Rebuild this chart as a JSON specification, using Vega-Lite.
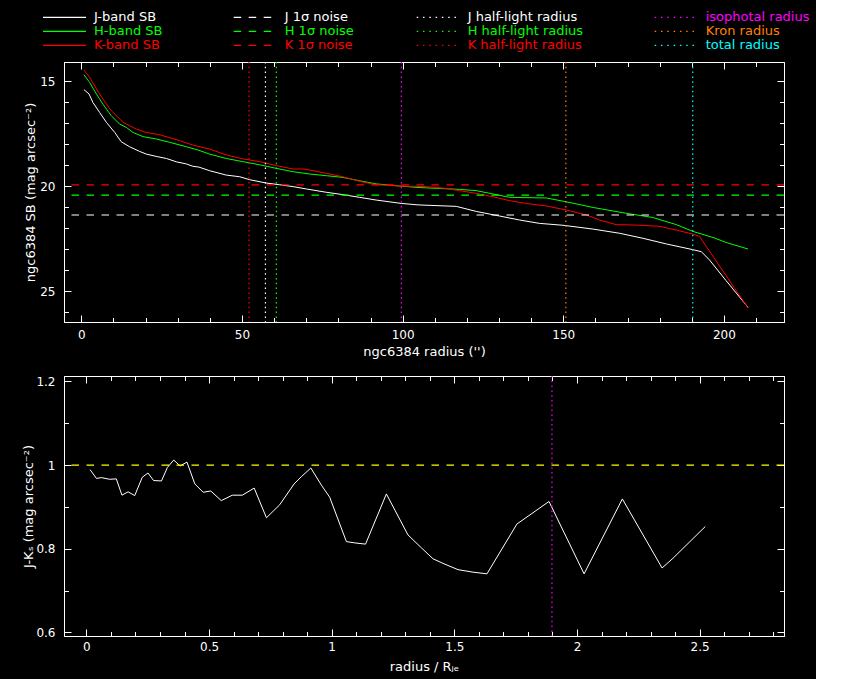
{
  "$schema": "https://vega.github.io/schema/vega-lite/v6.json",
  "background": "#000000",
  "padding": {"left": 21, "top": 10, "right": 5, "bottom": 5},
  "config": {
    "view": {"stroke": "#ffffff", "strokeWidth": 1},
    "font": "DejaVu Sans",
    "axis": {
      "domainColor": "#ffffff", "domainWidth": 1, "tickColor": "#ffffff", "tickWidth": 1,
      "labelColor": "#ffffff", "titleColor": "#ffffff",
      "labelFont": "DejaVu Sans", "titleFont": "DejaVu Sans",
      "labelFontSize": 12, "titleFontSize": 13, "titleFontWeight": "normal",
      "grid": false, "labelOverlap": false, "labelFlush": false
    },
    "legend": {
      "orient": "none", "symbolType": "stroke", "symbolSize": 1849, "symbolStrokeWidth": 1.2,
      "clipHeight": 13.8, "rowPadding": 0, "labelOffset": 7, "padding": 0,
      "labelFont": "DejaVu Sans", "labelFontSize": 13, "labelColor": "#ffffff"
    }
  },
  "datasets": {
    "sb": [
      {"label": "J-band SB", "r": 0.8, "sb": 15.41}, {"label": "J-band SB", "r": 2.4, "sb": 15.62},
      {"label": "J-band SB", "r": 3.6, "sb": 16.02}, {"label": "J-band SB", "r": 5.7, "sb": 16.5},
      {"label": "J-band SB", "r": 7.8, "sb": 16.97}, {"label": "J-band SB", "r": 10.4, "sb": 17.45},
      {"label": "J-band SB", "r": 12.4, "sb": 17.89}, {"label": "J-band SB", "r": 15.0, "sb": 18.13},
      {"label": "J-band SB", "r": 18.1, "sb": 18.35}, {"label": "J-band SB", "r": 20.2, "sb": 18.48},
      {"label": "J-band SB", "r": 23.3, "sb": 18.59}, {"label": "J-band SB", "r": 26.5, "sb": 18.69},
      {"label": "J-band SB", "r": 29.6, "sb": 18.85}, {"label": "J-band SB", "r": 32.7, "sb": 18.95},
      {"label": "J-band SB", "r": 34.7, "sb": 19.06}, {"label": "J-band SB", "r": 36.6, "sb": 19.1},
      {"label": "J-band SB", "r": 39.9, "sb": 19.27}, {"label": "J-band SB", "r": 45.1, "sb": 19.48},
      {"label": "J-band SB", "r": 49.3, "sb": 19.56}, {"label": "J-band SB", "r": 52.4, "sb": 19.7},
      {"label": "J-band SB", "r": 57.6, "sb": 19.86}, {"label": "J-band SB", "r": 61.7, "sb": 19.94},
      {"label": "J-band SB", "r": 65.9, "sb": 20.03}, {"label": "J-band SB", "r": 70.0, "sb": 20.14},
      {"label": "J-band SB", "r": 76.3, "sb": 20.3}, {"label": "J-band SB", "r": 81.4, "sb": 20.41},
      {"label": "J-band SB", "r": 86.6, "sb": 20.54}, {"label": "J-band SB", "r": 91.8, "sb": 20.67},
      {"label": "J-band SB", "r": 99.6, "sb": 20.83}, {"label": "J-band SB", "r": 104.8, "sb": 20.9},
      {"label": "J-band SB", "r": 116.7, "sb": 20.97}, {"label": "J-band SB", "r": 122.9, "sb": 21.21},
      {"label": "J-band SB", "r": 130.2, "sb": 21.43}, {"label": "J-band SB", "r": 136.4, "sb": 21.62},
      {"label": "J-band SB", "r": 142.6, "sb": 21.78}, {"label": "J-band SB", "r": 149.9, "sb": 21.87},
      {"label": "J-band SB", "r": 159.2, "sb": 22.05}, {"label": "J-band SB", "r": 167.5, "sb": 22.25},
      {"label": "J-band SB", "r": 174.8, "sb": 22.49}, {"label": "J-band SB", "r": 182.1, "sb": 22.76},
      {"label": "J-band SB", "r": 190.3, "sb": 23.03}, {"label": "J-band SB", "r": 193.0, "sb": 23.13},
      {"label": "J-band SB", "r": 195.5, "sb": 23.52}, {"label": "J-band SB", "r": 200.7, "sb": 24.51},
      {"label": "J-band SB", "r": 207.5, "sb": 25.78},
      {"label": "H-band SB", "r": 0.8, "sb": 14.7}, {"label": "H-band SB", "r": 2.6, "sb": 15.07},
      {"label": "H-band SB", "r": 4.7, "sb": 15.62}, {"label": "H-band SB", "r": 6.7, "sb": 16.1},
      {"label": "H-band SB", "r": 9.3, "sb": 16.65}, {"label": "H-band SB", "r": 11.9, "sb": 17.05},
      {"label": "H-band SB", "r": 14.0, "sb": 17.21}, {"label": "H-band SB", "r": 16.1, "sb": 17.45},
      {"label": "H-band SB", "r": 19.2, "sb": 17.65}, {"label": "H-band SB", "r": 23.3, "sb": 17.76},
      {"label": "H-band SB", "r": 27.5, "sb": 17.92}, {"label": "H-band SB", "r": 32.7, "sb": 18.13},
      {"label": "H-band SB", "r": 36.6, "sb": 18.3}, {"label": "H-band SB", "r": 39.9, "sb": 18.48},
      {"label": "H-band SB", "r": 45.1, "sb": 18.69}, {"label": "H-band SB", "r": 50.3, "sb": 18.84},
      {"label": "H-band SB", "r": 55.5, "sb": 18.99}, {"label": "H-band SB", "r": 60.7, "sb": 19.16},
      {"label": "H-band SB", "r": 65.9, "sb": 19.32}, {"label": "H-band SB", "r": 71.1, "sb": 19.43},
      {"label": "H-band SB", "r": 76.3, "sb": 19.51}, {"label": "H-band SB", "r": 81.4, "sb": 19.59},
      {"label": "H-band SB", "r": 86.6, "sb": 19.75}, {"label": "H-band SB", "r": 91.8, "sb": 19.9},
      {"label": "H-band SB", "r": 99.1, "sb": 20.0}, {"label": "H-band SB", "r": 104.8, "sb": 20.07},
      {"label": "H-band SB", "r": 110.5, "sb": 20.11}, {"label": "H-band SB", "r": 117.7, "sb": 20.16},
      {"label": "H-band SB", "r": 122.9, "sb": 20.22}, {"label": "H-band SB", "r": 128.1, "sb": 20.38},
      {"label": "H-band SB", "r": 133.3, "sb": 20.54}, {"label": "H-band SB", "r": 144.7, "sb": 20.57},
      {"label": "H-band SB", "r": 150.9, "sb": 20.75}, {"label": "H-band SB", "r": 159.2, "sb": 21.02},
      {"label": "H-band SB", "r": 169.6, "sb": 21.3}, {"label": "H-band SB", "r": 177.9, "sb": 21.5},
      {"label": "H-band SB", "r": 185.2, "sb": 21.84}, {"label": "H-band SB", "r": 190.3, "sb": 22.16},
      {"label": "H-band SB", "r": 196.6, "sb": 22.45}, {"label": "H-band SB", "r": 200.7, "sb": 22.69},
      {"label": "H-band SB", "r": 207.5, "sb": 23.0},
      {"label": "K-band SB", "r": 0.8, "sb": 14.48}, {"label": "K-band SB", "r": 2.6, "sb": 14.83},
      {"label": "K-band SB", "r": 4.7, "sb": 15.38}, {"label": "K-band SB", "r": 6.7, "sb": 15.86},
      {"label": "K-band SB", "r": 9.3, "sb": 16.41}, {"label": "K-band SB", "r": 13.0, "sb": 16.97},
      {"label": "K-band SB", "r": 17.1, "sb": 17.29}, {"label": "K-band SB", "r": 20.2, "sb": 17.45},
      {"label": "K-band SB", "r": 24.4, "sb": 17.56}, {"label": "K-band SB", "r": 27.0, "sb": 17.68},
      {"label": "K-band SB", "r": 30.6, "sb": 17.84}, {"label": "K-band SB", "r": 34.7, "sb": 18.05},
      {"label": "K-band SB", "r": 39.9, "sb": 18.24}, {"label": "K-band SB", "r": 45.1, "sb": 18.52},
      {"label": "K-band SB", "r": 50.3, "sb": 18.71}, {"label": "K-band SB", "r": 55.5, "sb": 18.84},
      {"label": "K-band SB", "r": 60.7, "sb": 19.03}, {"label": "K-band SB", "r": 65.9, "sb": 19.19},
      {"label": "K-band SB", "r": 69.0, "sb": 19.19}, {"label": "K-band SB", "r": 72.2, "sb": 19.27},
      {"label": "K-band SB", "r": 76.3, "sb": 19.4}, {"label": "K-band SB", "r": 81.4, "sb": 19.56},
      {"label": "K-band SB", "r": 86.6, "sb": 19.78}, {"label": "K-band SB", "r": 91.8, "sb": 19.94},
      {"label": "K-band SB", "r": 99.1, "sb": 20.0}, {"label": "K-band SB", "r": 107.4, "sb": 20.03},
      {"label": "K-band SB", "r": 113.1, "sb": 20.11}, {"label": "K-band SB", "r": 117.7, "sb": 20.22},
      {"label": "K-band SB", "r": 122.9, "sb": 20.35}, {"label": "K-band SB", "r": 128.1, "sb": 20.51},
      {"label": "K-band SB", "r": 133.3, "sb": 20.7}, {"label": "K-band SB", "r": 138.5, "sb": 20.83},
      {"label": "K-band SB", "r": 144.7, "sb": 20.95}, {"label": "K-band SB", "r": 150.9, "sb": 21.14},
      {"label": "K-band SB", "r": 157.2, "sb": 21.38}, {"label": "K-band SB", "r": 161.3, "sb": 21.62},
      {"label": "K-band SB", "r": 166.5, "sb": 21.84}, {"label": "K-band SB", "r": 172.7, "sb": 21.86},
      {"label": "K-band SB", "r": 180.0, "sb": 21.92}, {"label": "K-band SB", "r": 185.2, "sb": 22.1},
      {"label": "K-band SB", "r": 190.3, "sb": 22.29}, {"label": "K-band SB", "r": 192.4, "sb": 22.4},
      {"label": "K-band SB", "r": 207.5, "sb": 25.81}
    ],
    "noise": [
      {"label": "J 1σ noise", "sb": 21.38},
      {"label": "H 1σ noise", "sb": 20.43},
      {"label": "K 1σ noise", "sb": 19.95}
    ],
    "halflight": [
      {"label": "J half-light radius", "r": 57.3},
      {"label": "H half-light radius", "r": 60.7},
      {"label": "K half-light radius", "r": 52.2}
    ],
    "radii": [
      {"label": "isophotal radius", "r": 99.6},
      {"label": "Kron radius", "r": 150.8},
      {"label": "total radius", "r": 190.3}
    ],
    "jk": [
      {"x": 0.015, "jk": 0.989}, {"x": 0.041, "jk": 0.968}, {"x": 0.061, "jk": 0.97},
      {"x": 0.095, "jk": 0.966}, {"x": 0.122, "jk": 0.967}, {"x": 0.145, "jk": 0.928},
      {"x": 0.17, "jk": 0.936}, {"x": 0.197, "jk": 0.927}, {"x": 0.228, "jk": 0.971},
      {"x": 0.251, "jk": 0.981}, {"x": 0.274, "jk": 0.963}, {"x": 0.306, "jk": 0.962},
      {"x": 0.33, "jk": 0.994}, {"x": 0.356, "jk": 1.012}, {"x": 0.382, "jk": 0.998},
      {"x": 0.41, "jk": 1.007}, {"x": 0.442, "jk": 0.955}, {"x": 0.476, "jk": 0.935},
      {"x": 0.507, "jk": 0.938}, {"x": 0.55, "jk": 0.915}, {"x": 0.595, "jk": 0.928},
      {"x": 0.636, "jk": 0.928}, {"x": 0.684, "jk": 0.945}, {"x": 0.734, "jk": 0.874},
      {"x": 0.788, "jk": 0.905}, {"x": 0.847, "jk": 0.955}, {"x": 0.876, "jk": 0.972},
      {"x": 0.915, "jk": 0.993}, {"x": 0.958, "jk": 0.952}, {"x": 0.992, "jk": 0.923},
      {"x": 1.06, "jk": 0.817}, {"x": 1.094, "jk": 0.814}, {"x": 1.138, "jk": 0.811},
      {"x": 1.223, "jk": 0.931}, {"x": 1.311, "jk": 0.833}, {"x": 1.366, "jk": 0.802},
      {"x": 1.413, "jk": 0.776}, {"x": 1.454, "jk": 0.765}, {"x": 1.515, "jk": 0.75},
      {"x": 1.576, "jk": 0.744}, {"x": 1.633, "jk": 0.74}, {"x": 1.755, "jk": 0.859},
      {"x": 1.886, "jk": 0.913}, {"x": 2.029, "jk": 0.74}, {"x": 2.185, "jk": 0.919},
      {"x": 2.347, "jk": 0.754}, {"x": 2.391, "jk": 0.777}, {"x": 2.523, "jk": 0.853}
    ],
    "unity": [{"jk": 1.0}],
    "iso": [{"x": 1.898}]
  },
  "bounds": "flush",
  "spacing": 54,
  "vconcat": [
    {
      "width": 720,
      "height": 260,
      "layer": [
        {
          "data": {"name": "sb"},
          "mark": {"type": "line", "strokeWidth": 1, "clip": true},
          "encoding": {
            "x": {
              "field": "r", "type": "quantitative",
              "scale": {"domain": [-5.4, 218.7], "nice": false, "zero": false},
              "axis": {
                "orient": "bottom",
                "values": [0,10,20,30,40,50,60,70,80,90,100,110,120,130,140,150,160,170,180,190,200,210],
                "tickSize": {"condition": {"test": "datum.value % 50 === 0", "value": -7}, "value": -4.5},
                "labelExpr": "datum.value % 50 === 0 ? format(datum.value, '~g') : ''",
                "labelPadding": 14,
                "title": "ngc6384 radius ('')",
                "titleX": 360, "titleY": 29, "titleBaseline": "middle", "titleAlign": "center"
              }
            },
            "y": {
              "field": "sb", "type": "quantitative",
              "scale": {"domain": [14.095, 26.476], "nice": false, "zero": false, "reverse": true},
              "axis": {
                "orient": "left",
                "values": [15,16,17,18,19,20,21,22,23,24,25,26],
                "tickSize": {"condition": {"test": "datum.value % 5 === 0", "value": -7}, "value": -4.5},
                "labelExpr": "datum.value % 5 === 0 ? format(datum.value, '~g') : ''",
                "labelPadding": 16,
                "title": "ngc6384 SB (mag arcsec⁻²)",
                "titleX": -34, "titleY": 130, "titleBaseline": "middle", "titleAlign": "center", "titleAngle": 270
              }
            },
            "color": {
              "field": "label", "type": "nominal",
              "scale": {"domain": ["J-band SB", "H-band SB", "K-band SB"], "range": ["#ffffff", "#00ff00", "#ff0000"]},
              "legend": {
                "title": null, "legendX": -22, "legendY": -51.5, "symbolDash": [1, 0],
                "encode": {"labels": {"update": {"fill": {"signal": "['#ffffff','#00ff00','#ff0000'][datum.index]"}}}}
              }
            }
          }
        },
        {
          "data": {"name": "noise"},
          "mark": {"type": "rule", "strokeWidth": 1.2, "strokeDash": [7.5, 7.5]},
          "encoding": {
            "y": {
              "field": "sb", "type": "quantitative",
              "scale": {"domain": [14.095, 26.476], "nice": false, "zero": false, "reverse": true},
              "axis": {
                "orient": "right", "labels": false, "title": null,
                "values": [15,16,17,18,19,20,21,22,23,24,25,26],
                "tickSize": {"condition": {"test": "datum.value % 5 === 0", "value": -7}, "value": -4.5}
              }
            },
            "color": {
              "field": "label", "type": "nominal",
              "scale": {"domain": ["J 1σ noise", "H 1σ noise", "K 1σ noise"], "range": ["#ffffff", "#00ff00", "#ff0000"]},
              "legend": {
                "title": null, "legendX": 168.7, "legendY": -51.5, "symbolDash": [7.5, 7.5],
                "encode": {"labels": {"update": {"fill": {"signal": "['#ffffff','#00ff00','#ff0000'][datum.index]"}}}}
              }
            }
          }
        },
        {
          "data": {"name": "halflight"},
          "mark": {"type": "rule", "strokeWidth": 1.2, "strokeDash": [1.5, 3.3]},
          "encoding": {
            "x": {
              "field": "r", "type": "quantitative",
              "scale": {"domain": [-5.4, 218.7], "nice": false, "zero": false},
              "axis": {
                "orient": "top", "labels": false, "title": null,
                "values": [0,10,20,30,40,50,60,70,80,90,100,110,120,130,140,150,160,170,180,190,200,210],
                "tickSize": {"condition": {"test": "datum.value % 50 === 0", "value": -7}, "value": -4.5}
              }
            },
            "color": {
              "field": "label", "type": "nominal",
              "scale": {"domain": ["J half-light radius", "H half-light radius", "K half-light radius"], "range": ["#ffffff", "#00ff00", "#ff0000"]},
              "legend": {
                "title": null, "legendX": 351.7, "legendY": -51.5, "symbolDash": [1.5, 4.8],
                "encode": {"labels": {"update": {"fill": {"signal": "['#ffffff','#00ff00','#ff0000'][datum.index]"}}}}
              }
            }
          }
        },
        {
          "data": {"name": "radii"},
          "mark": {"type": "rule", "strokeWidth": 1.2, "strokeDash": [1.5, 3.3]},
          "encoding": {
            "x": {
              "field": "r", "type": "quantitative",
              "scale": {"domain": [-5.4, 218.7], "nice": false, "zero": false},
              "axis": null
            },
            "color": {
              "field": "label", "type": "nominal",
              "scale": {"domain": ["isophotal radius", "Kron radius", "total radius"], "range": ["#ff00ff", "#ff8000", "#00ffff"]},
              "legend": {
                "title": null, "legendX": 589.7, "legendY": -51.5, "symbolDash": [1.5, 4.8],
                "encode": {"labels": {"update": {"fill": {"signal": "['#ff00ff','#ff8000','#00ffff'][datum.index]"}}}}
              }
            }
          }
        }
      ],
      "resolve": {"scale": {"color": "independent"}, "axis": {"x": "independent", "y": "independent"}}
    },
    {
      "width": 720,
      "height": 260,
      "layer": [
        {
          "data": {"name": "jk"},
          "mark": {"type": "line", "strokeWidth": 1, "color": "#ffffff", "clip": true},
          "encoding": {
            "x": {
              "field": "x", "type": "quantitative",
              "scale": {"domain": [-0.0913, 2.844], "nice": false, "zero": false},
              "axis": {
                "orient": "bottom",
                "values": [0,0.1,0.2,0.3,0.4,0.5,0.6,0.7,0.8,0.9,1,1.1,1.2,1.3,1.4,1.5,1.6,1.7,1.8,1.9,2,2.1,2.2,2.3,2.4,2.5,2.6,2.7,2.8],
                "tickSize": {"condition": {"test": "abs(datum.value*2 - round(datum.value*2)) < 0.001", "value": -7}, "value": -4.5},
                "labelExpr": "abs(datum.value*2 - round(datum.value*2)) < 0.001 ? format(datum.value, '~g') : ''",
                "labelPadding": 12,
                "title": "radius / Rⱼₑ",
                "titleX": 360, "titleY": 30, "titleBaseline": "middle", "titleAlign": "center"
              }
            },
            "y": {
              "field": "jk", "type": "quantitative",
              "scale": {"domain": [0.5914, 1.2129], "nice": false, "zero": false},
              "axis": {
                "orient": "left",
                "values": [0.6,0.7,0.8,0.9,1,1.1,1.2],
                "tickSize": {"condition": {"test": "abs(datum.value*5 - round(datum.value*5)) < 0.001", "value": -7}, "value": -4.5},
                "labelExpr": "abs(datum.value*5 - round(datum.value*5)) < 0.001 ? format(datum.value, '~g') : ''",
                "labelPadding": 16,
                "title": "J-Kₛ (mag arcsec⁻²)",
                "titleX": -36, "titleY": 130, "titleBaseline": "middle", "titleAlign": "center", "titleAngle": 270
              }
            }
          }
        },
        {
          "data": {"name": "unity"},
          "mark": {"type": "rule", "strokeWidth": 1.2, "color": "#ffff00", "strokeDash": [7.5, 7.5]},
          "encoding": {
            "y": {
              "field": "jk", "type": "quantitative",
              "scale": {"domain": [0.5914, 1.2129], "nice": false, "zero": false},
              "axis": {
                "orient": "right", "labels": false, "title": null,
                "values": [0.6,0.7,0.8,0.9,1,1.1,1.2],
                "tickSize": {"condition": {"test": "abs(datum.value*5 - round(datum.value*5)) < 0.001", "value": -7}, "value": -4.5}
              }
            }
          }
        },
        {
          "data": {"name": "iso"},
          "mark": {"type": "rule", "strokeWidth": 1.2, "color": "#ff00ff", "strokeDash": [1.5, 3.3]},
          "encoding": {
            "x": {
              "field": "x", "type": "quantitative",
              "scale": {"domain": [-0.0913, 2.844], "nice": false, "zero": false},
              "axis": {
                "orient": "top", "labels": false, "title": null,
                "values": [0,0.1,0.2,0.3,0.4,0.5,0.6,0.7,0.8,0.9,1,1.1,1.2,1.3,1.4,1.5,1.6,1.7,1.8,1.9,2,2.1,2.2,2.3,2.4,2.5,2.6,2.7,2.8],
                "tickSize": {"condition": {"test": "abs(datum.value*2 - round(datum.value*2)) < 0.001", "value": -7}, "value": -4.5}
              }
            }
          }
        }
      ],
      "resolve": {"axis": {"x": "independent", "y": "independent"}}
    }
  ]
}
